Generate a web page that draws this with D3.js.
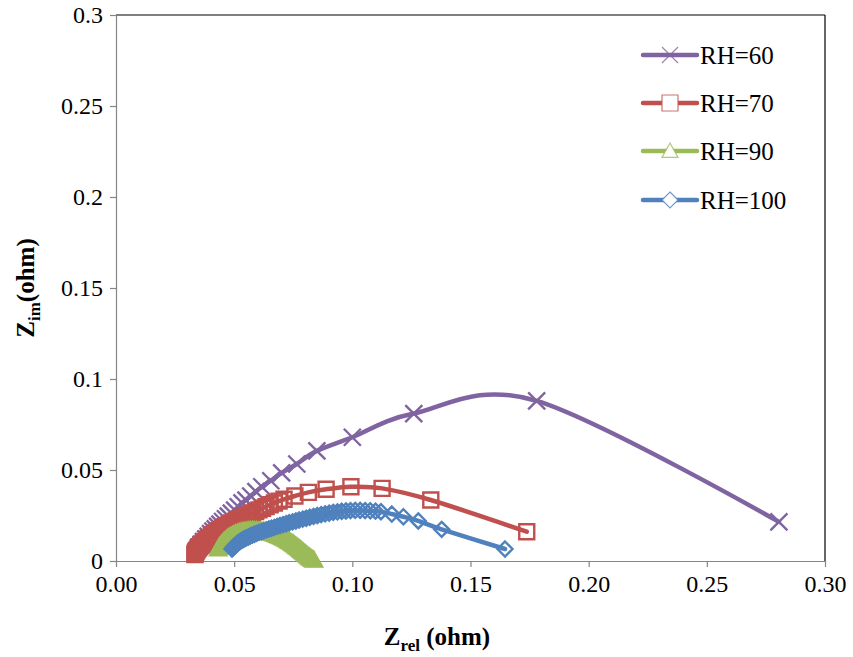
<!DOCTYPE html>
<html>
<head>
<meta charset="utf-8">
<script src="https://cdn.jsdelivr.net/npm/d3@7/dist/d3.min.js"></script>
<style>
  html, body { margin: 0; padding: 0; background: #fff; }
  svg { display: block; }
  svg text { font-family: "Liberation Serif", "Times New Roman", "DejaVu Serif", serif; }
</style>
</head>
<body>
<svg id="chart" width="853" height="657"></svg>
<script>
// ---------- data ----------
const seriesNames = ["RH=60", "RH=70", "RH=90", "RH=100"];

const rh60X = [0.0350,0.0360,0.0370,0.0380,0.0390,0.0400,0.0410,0.0420,0.0430,0.0440,0.0451,0.0463,0.0475,0.0488,0.0502,0.0517,0.0533,0.0550,0.0570,0.0592,0.0617,0.0655,0.0701,0.0765,0.0850,0.1000,0.1260,0.1780,0.2805];
const rh60Y = [0.0077,0.0092,0.0107,0.0122,0.0136,0.0150,0.0164,0.0177,0.0190,0.0203,0.0217,0.0232,0.0247,0.0263,0.0280,0.0298,0.0319,0.0335,0.0357,0.0381,0.0408,0.0441,0.0484,0.0533,0.0605,0.0680,0.0810,0.0880,0.0215];

const rh70X = [0.0334,0.0335,0.0336,0.0338,0.0341,0.0345,0.0349,0.0354,0.0359,0.0365,0.0371,0.0377,0.0383,0.0390,0.0397,0.0404,0.0411,0.0419,0.0427,0.0435,0.0443,0.0452,0.0461,0.0470,0.0479,0.0489,0.0499,0.0509,0.0519,0.0530,0.0541,0.0553,0.0565,0.0578,0.0591,0.0605,0.0620,0.0635,0.0652,0.0670,0.0690,0.0711,0.0757,0.0814,0.0889,0.0994,0.1126,0.1332,0.1738];
const rh70Y = [0.0035,0.0040,0.0046,0.0052,0.0058,0.0065,0.0072,0.0079,0.0086,0.0093,0.0100,0.0108,0.0115,0.0123,0.0130,0.0138,0.0145,0.0153,0.0160,0.0167,0.0174,0.0181,0.0188,0.0195,0.0202,0.0209,0.0215,0.0222,0.0228,0.0235,0.0242,0.0249,0.0256,0.0264,0.0272,0.0281,0.0290,0.0299,0.0309,0.0319,0.0329,0.0339,0.0357,0.0377,0.0394,0.0408,0.0399,0.0335,0.0161];

const rh90X = [0.0432,0.0436,0.0440,0.0445,0.0450,0.0455,0.0461,0.0467,0.0473,0.0479,0.0486,0.0493,0.0500,0.0507,0.0515,0.0522,0.0530,0.0538,0.0546,0.0554,0.0562,0.0570,0.0578,0.0586,0.0594,0.0602,0.0610,0.0618,0.0626,0.0633,0.0641,0.0648,0.0656,0.0663,0.0670,0.0677,0.0684,0.0691,0.0697,0.0704,0.0710,0.0716,0.0722,0.0728,0.0734,0.0740,0.0745,0.0751,0.0756,0.0761,0.0766,0.0771,0.0776,0.0781,0.0785,0.0790,0.0794,0.0799,0.0803,0.0808,0.0812,0.0817,0.0821,0.0826,0.0830,0.0834,0.0838];
const rh90Y = [0.0066,0.0075,0.0083,0.0091,0.0099,0.0106,0.0113,0.0120,0.0126,0.0132,0.0137,0.0142,0.0147,0.0151,0.0155,0.0158,0.0161,0.0163,0.0165,0.0167,0.0168,0.0169,0.0169,0.0169,0.0168,0.0167,0.0166,0.0164,0.0163,0.0161,0.0159,0.0156,0.0154,0.0151,0.0148,0.0145,0.0141,0.0137,0.0134,0.0130,0.0126,0.0121,0.0117,0.0112,0.0108,0.0103,0.0098,0.0093,0.0088,0.0083,0.0078,0.0073,0.0068,0.0063,0.0058,0.0053,0.0048,0.0043,0.0038,0.0033,0.0028,0.0023,0.0019,0.0014,0.0010,0.0007,0.0004];

const rh100X = [0.0491,0.0495,0.0500,0.0505,0.0511,0.0517,0.0523,0.0530,0.0537,0.0544,0.0552,0.0560,0.0568,0.0577,0.0586,0.0595,0.0605,0.0615,0.0625,0.0636,0.0647,0.0658,0.0670,0.0682,0.0694,0.0707,0.0720,0.0733,0.0747,0.0761,0.0775,0.0790,0.0805,0.0820,0.0836,0.0852,0.0868,0.0885,0.0902,0.0919,0.0937,0.0955,0.0973,0.0992,0.1012,0.1033,0.1054,0.1076,0.1098,0.1121,0.1167,0.1216,0.1279,0.1378,0.1646];
const rh100Y = [0.0066,0.0073,0.0080,0.0087,0.0094,0.0100,0.0106,0.0112,0.0117,0.0122,0.0127,0.0132,0.0137,0.0142,0.0147,0.0152,0.0157,0.0161,0.0166,0.0171,0.0176,0.0180,0.0185,0.0190,0.0195,0.0200,0.0205,0.0210,0.0215,0.0220,0.0225,0.0230,0.0235,0.0240,0.0245,0.0250,0.0255,0.0259,0.0263,0.0267,0.0270,0.0273,0.0275,0.0277,0.0278,0.0278,0.0277,0.0276,0.0274,0.0271,0.0258,0.0243,0.0220,0.0174,0.0066];

const xTicks = [0, 0.05, 0.10, 0.15, 0.20, 0.25, 0.30];
const xTickLabels = ["0.00", "0.05", "0.10", "0.15", "0.20", "0.25", "0.30"];
const yTicks = [0, 0.05, 0.10, 0.15, 0.20, 0.25, 0.30];
const yTickLabels = ["0", "0.05", "0.1", "0.15", "0.2", "0.25", "0.3"];

// ---------- setup ----------
const FONT = "'Liberation Serif', 'Times New Roman', 'DejaVu Serif', serif";
const colors = ["#8064A2", "#C0504D", "#9BBB59", "#4F81BD"];
const markers = ["x", "square", "triangle", "diamond"];
const seriesX = [rh60X, rh70X, rh90X, rh100X];
const seriesY = [rh60Y, rh70Y, rh90Y, rh100Y];

const svg = d3.select("#chart");
const x = d3.scaleLinear().domain([0, 0.3]).range([116, 825]);
const y = d3.scaleLinear().domain([0, 0.3]).range([561, 15]);

function markerPath(type, s) {
  const h = s / 2;
  if (type === "x") return `M${-h},${-h}L${h},${h}M${-h},${h}L${h},${-h}`;
  if (type === "square") return `M${-h},${-h}H${h}V${h}H${-h}Z`;
  if (type === "triangle") return `M0,${-h}L${h},${h*0.8}L${-h},${h*0.8}Z`;
  if (type === "diamond") return `M0,${-h}L${h},0L0,${h}L${-h},0Z`;
}
const markerSize = { x: 17, square: 15, triangle: 16, diamond: 15 };

// plot border (top & right)
svg.append("line").attr("x1", x(0)).attr("x2", x(0.3)).attr("y1", y(0.3)).attr("y2", y(0.3))
  .attr("stroke", "#000").attr("stroke-width", 1.2);
svg.append("line").attr("x1", x(0.3)).attr("x2", x(0.3)).attr("y1", y(0.3)).attr("y2", y(0))
  .attr("stroke", "#000").attr("stroke-width", 1.2);

// axes
const xAxis = d3.axisBottom(x).tickValues(xTicks)
  .tickFormat((d, i) => xTickLabels[i]).tickSizeInner(6).tickSizeOuter(0).tickPadding(8);
const yAxis = d3.axisLeft(y).tickValues(yTicks)
  .tickFormat((d, i) => yTickLabels[i]).tickSizeInner(6).tickSizeOuter(0).tickPadding(7);

const gx = svg.append("g").attr("transform", `translate(0,${y(0)})`).call(xAxis);
const gy = svg.append("g").attr("transform", `translate(${x(0)},0)`).call(yAxis);
[gx, gy].forEach(g => {
  g.attr("font-family", FONT).attr("font-size", 24);
  g.select(".domain").attr("stroke", "#868686").attr("stroke-width", 1.2);
  g.selectAll(".tick line").attr("stroke", "#868686").attr("stroke-width", 1.2);
  g.selectAll(".tick text").attr("fill", "#000")
    .style("font-family", FONT).style("font-size", "24px");
});

// series
const line = d3.line().x(d => x(d[0])).y(d => y(d[1])).curve(d3.curveCatmullRom.alpha(0));
seriesX.forEach((xs, i) => {
  const pts = xs.map((v, j) => [v, seriesY[i][j]]);
  const g = svg.append("g");
  g.append("path").attr("d", line(pts)).attr("fill", "none")
    .attr("stroke", colors[i]).attr("stroke-width", 4.5).attr("stroke-linejoin", "round").attr("stroke-linecap", "round");
  g.selectAll("path.m").data(pts).enter().append("path").attr("class", "m")
    .attr("transform", d => `translate(${x(d[0])},${y(d[1])})`)
    .attr("d", markerPath(markers[i], markerSize[markers[i]]))
    .attr("fill", "none").attr("stroke", colors[i]).attr("stroke-width", 2.4);
});

// legend
const legY = [55, 103, 151, 200];
seriesNames.forEach((name, i) => {
  const g = svg.append("g").attr("transform", `translate(0,${legY[i]})`);
  g.append("line").attr("x1", 643).attr("x2", 697).attr("y1", 0).attr("y2", 0)
    .attr("stroke", colors[i]).attr("stroke-width", 4.5).attr("stroke-linecap", "round");
  g.append("path").attr("transform", "translate(670,0)")
    .attr("d", markerPath(markers[i], 16))
    .attr("fill", markers[i] === "x" ? "none" : "#fff")
    .attr("stroke", colors[i]).attr("stroke-width", 1.2).attr("stroke-opacity", 0.8);
  g.append("text").attr("x", 700).attr("y", 0).attr("dy", "0.35em")
    .style("font-family", FONT).style("font-size", "25px").attr("fill", "#000").text(name);
});

// axis titles
const xt = svg.append("text").attr("x", 437).attr("y", 645).attr("text-anchor", "middle")
  .style("font-family", FONT).style("font-size", "25px").style("font-weight", "bold");
xt.append("tspan").text("Z");
xt.append("tspan").attr("dy", 6).style("font-size", "17px").text("rel");
xt.append("tspan").attr("dy", -6).text(" (ohm)");

const yt = svg.append("text").attr("transform", "translate(34,288) rotate(-90)").attr("text-anchor", "middle")
  .style("font-family", FONT).style("font-size", "25px").style("font-weight", "bold");
yt.append("tspan").text("Z");
yt.append("tspan").attr("dy", 6).style("font-size", "17px").text("im");
yt.append("tspan").attr("dy", -6).text("(ohm)");
</script>
</body>
</html>
